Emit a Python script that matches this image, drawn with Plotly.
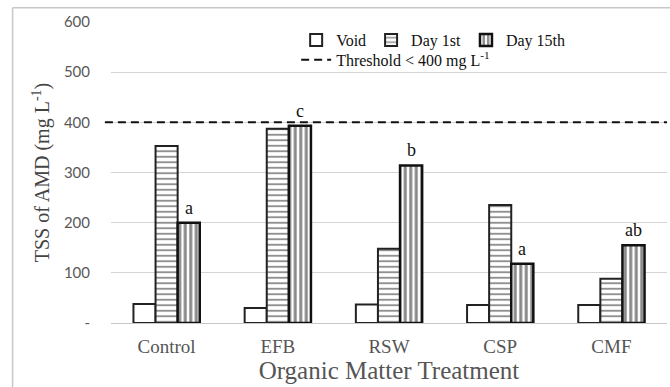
import plotly.graph_objects as go

categories = ["Control", "EFB", "RSW", "CSP", "CMF"]
void_vals = [38, 30, 37, 36, 36]
day1_vals = [353, 387, 148, 235, 88]
day15_vals = [200, 393, 314, 118, 155]
sig_letters = ["a", "c", "b", "a", "ab"]
threshold = 400
y_tickvals = [0, 100, 200, 300, 400, 500, 600]
y_ticktext = ["-", "100", "200", "300", "400", "500", "600"]

serif = "Liberation Serif, Times New Roman, serif"
sans = "Lato, Carlito, Calibri, sans-serif"

fig = go.Figure()
fig.add_trace(go.Bar(
    x=categories, y=void_vals, name="Void",
    marker=dict(color="white", line=dict(color="#222", width=2)),
    legend="legend"))
fig.add_trace(go.Bar(
    x=categories, y=day1_vals, name="Day 1st",
    marker=dict(color="white", line=dict(color="#222", width=2),
                pattern=dict(shape="-", size=5.5, solidity=0.35,
                             fgcolor="#222", bgcolor="white")),
    legend="legend"))
fig.add_trace(go.Bar(
    x=categories, y=day15_vals, name="Day 15th",
    marker=dict(color="white", line=dict(color="#111", width=2.5),
                pattern=dict(shape="|", size=5.5, solidity=0.55,
                             fgcolor="#111", bgcolor="white")),
    legend="legend"))
fig.add_trace(go.Scatter(
    x=[None], y=[None], mode="lines", name="Threshold < 400 mg L<sup>-1</sup>",
    line=dict(color="#111", width=2, dash="8px,5px"), legend="legend2"))

fig.add_shape(type="line", xref="paper", yref="y", x0=-0.011, x1=1.0,
              y0=threshold, y1=threshold,
              line=dict(color="#111", width=2, dash="8px,5px"))

# outer frame (left and top edges visible)
fig.add_shape(type="line", xref="paper", yref="paper",
              x0=-0.177, x1=-0.177, y0=-0.3, y1=1.047,
              line=dict(color="#c8c8c8", width=1.5))
fig.add_shape(type="line", xref="paper", yref="paper",
              x0=-0.177, x1=1.05, y0=1.047, y1=1.047,
              line=dict(color="#c8c8c8", width=1.5))

for c, v, s in zip(categories, day15_vals, sig_letters):
    fig.add_annotation(x=c, y=v, text=s, showarrow=False, xshift=22,
                       yanchor="bottom", yshift=3,
                       font=dict(family=serif, size=18, color="#111"))

fig.update_layout(
    width=670, height=387,
    margin=dict(l=111, r=3, t=22, b=64),
    paper_bgcolor="white", plot_bgcolor="white",
    barmode="group", bargap=0.404, bargroupgap=0,
    showlegend=True,
    legend=dict(orientation="h", x=0.333, y=0.94, xanchor="left", yanchor="middle",
                font=dict(family=serif, size=16, color="#111"),
                bgcolor="rgba(0,0,0,0)", itemwidth=30, traceorder="normal"),
    legend2=dict(orientation="h", x=0.333, y=0.874, xanchor="left", yanchor="middle",
                 font=dict(family=serif, size=16, color="#111"),
                 bgcolor="rgba(0,0,0,0)", itemwidth=30),
    xaxis=dict(showline=False, showgrid=False, ticks="", automargin=False,
               tickfont=dict(family=serif, size=19, color="#555"),
               ticklabelstandoff=10,
               title=dict(text="Organic Matter Treatment",
                          font=dict(family=serif, size=25, color="#555"),
                          standoff=2)),
    yaxis=dict(range=[0, 600], tickvals=y_tickvals, ticktext=y_ticktext,
               automargin=False,
               showgrid=True, gridcolor="#d4d4d4", gridwidth=1.2,
               zeroline=True, zerolinecolor="#c8c8c8", zerolinewidth=1.2,
               showline=False, ticks="",
               tickfont=dict(family=sans, size=15, color="#595959"),
               ticklabelstandoff=20,
               title=dict(text="TSS of AMD (mg L<sup>-1</sup>)",
                          font=dict(family=serif, size=20, color="#444"),
                          standoff=8)),
)

fig.write_html("out.html", config={"displayModeBar": False},
               post_script="document.body.style.margin='0';document.body.style.overflow='hidden';")
